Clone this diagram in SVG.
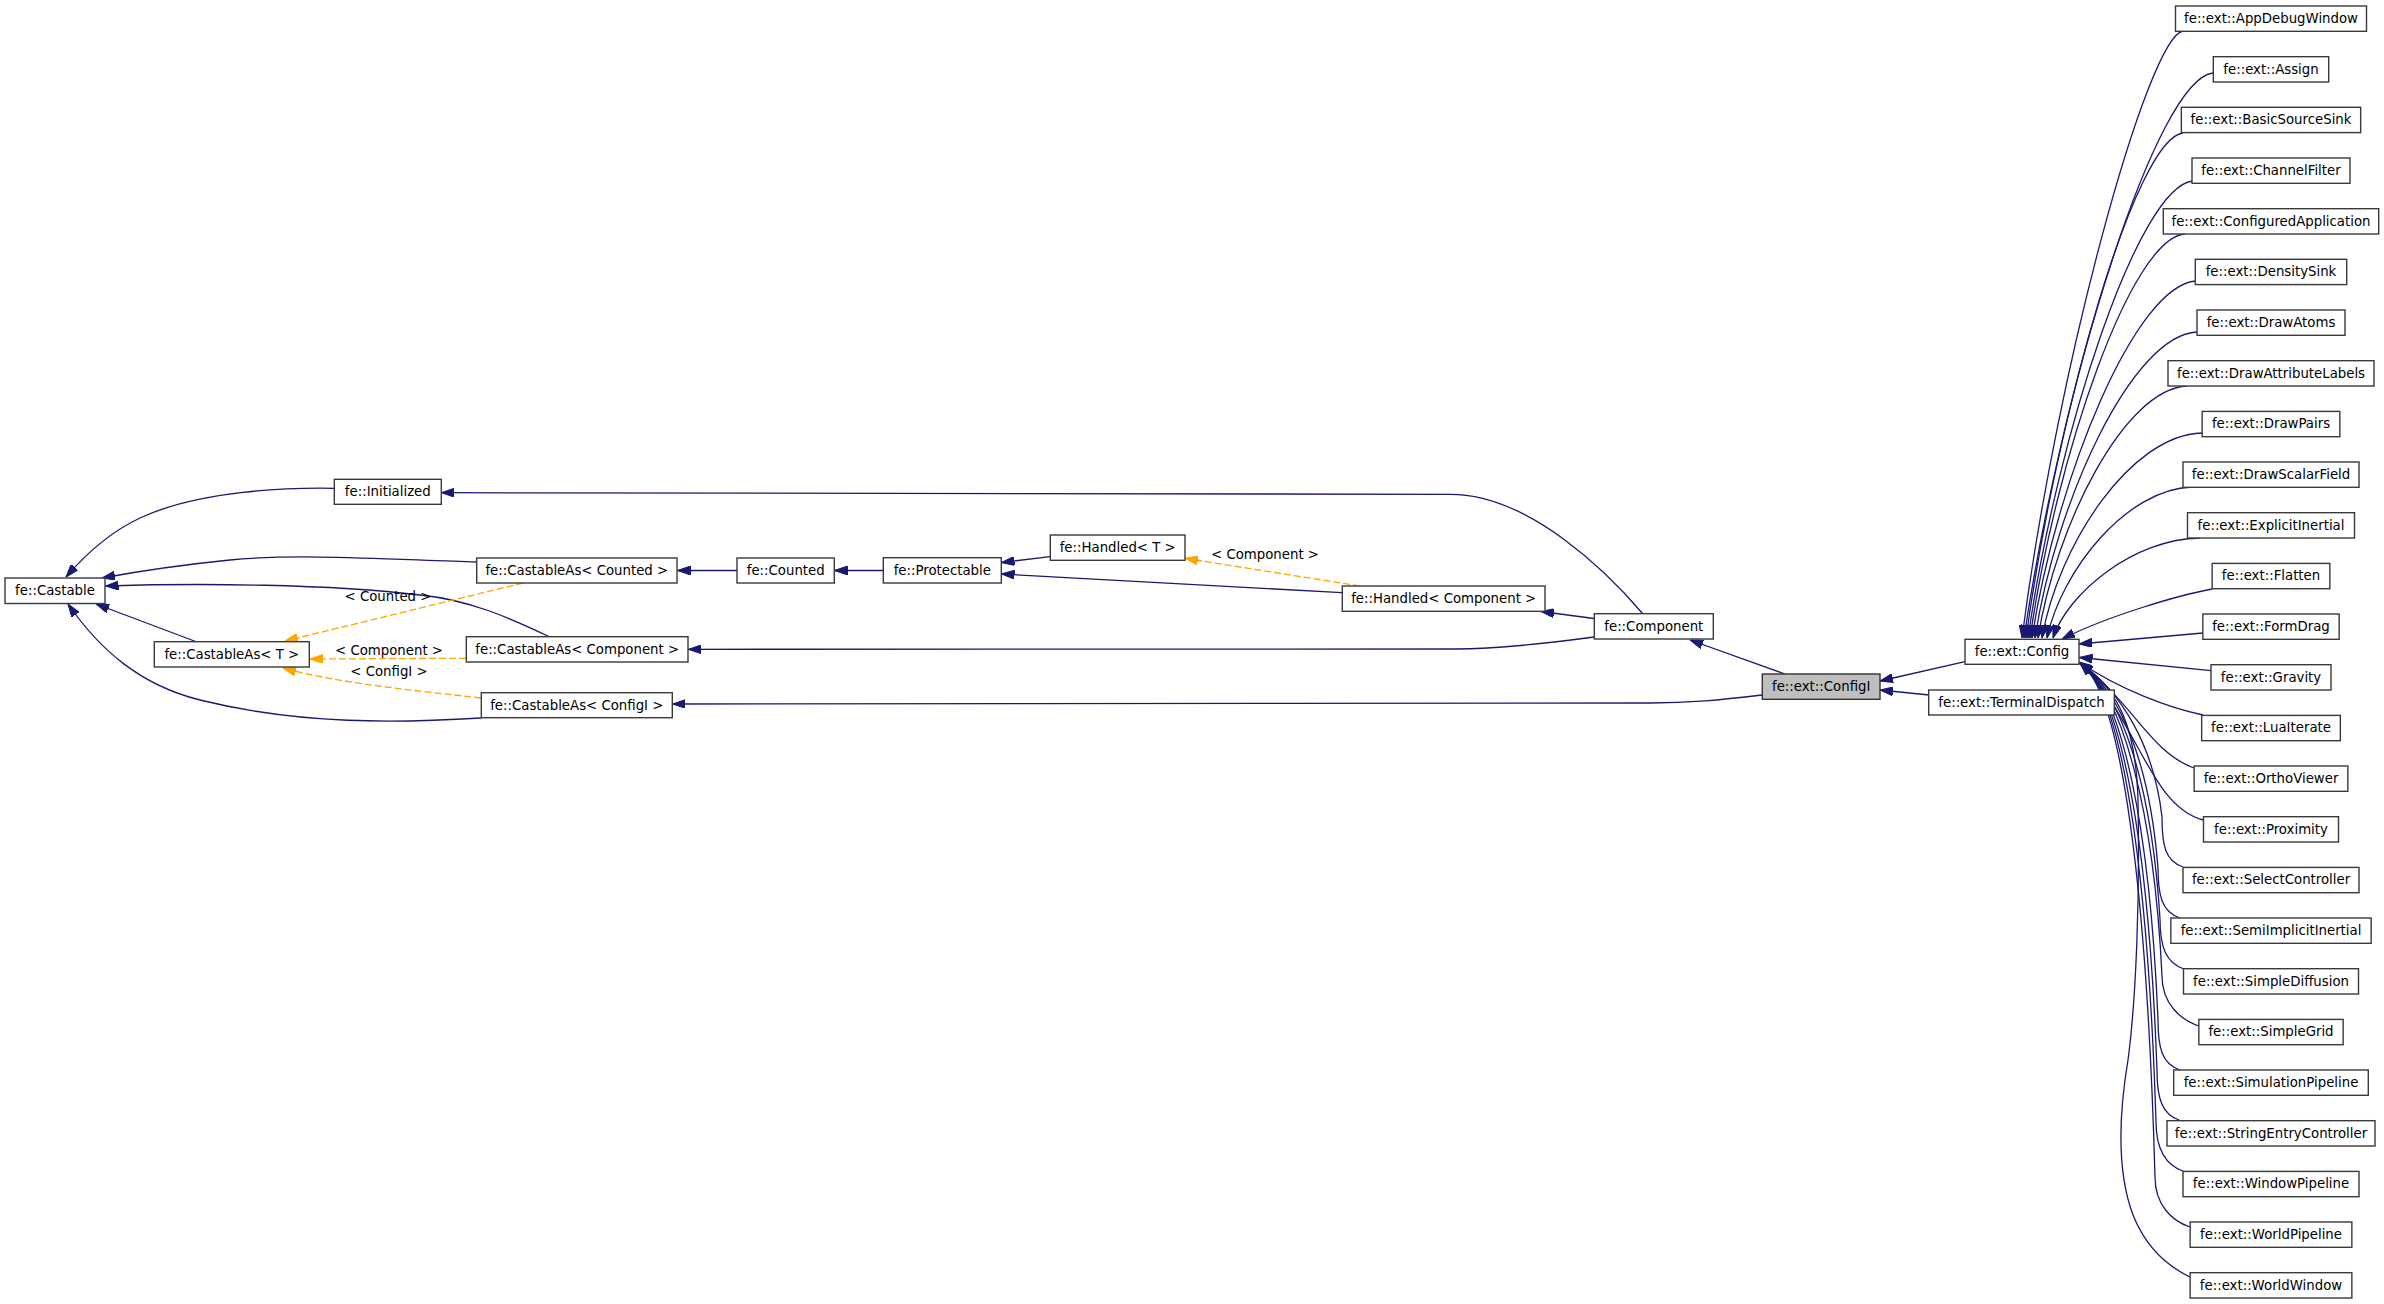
<svg xmlns="http://www.w3.org/2000/svg" width="2384" height="1304" viewBox="0 0 2384 1304">
<style>
.n rect{fill:#fff;stroke:#3a3a3a;stroke-width:1.4}
.n.sel rect{fill:#bfbfbf;stroke:#333}
text{font-family:"DejaVu Sans","Noto Sans",sans-serif;font-size:13.3px;text-anchor:middle;fill:#000}
.e{fill:none;stroke:#191970;stroke-width:1.3;marker-end:url(#ah)}
.d{fill:none;stroke:#FFA500;stroke-width:1.3;stroke-dasharray:7,3;marker-end:url(#ao)}
</style>
<defs>
<marker id="ah" viewBox="0 0 13 9" refX="13" refY="4.5" markerWidth="13" markerHeight="9" markerUnits="userSpaceOnUse" orient="auto"><path d="M0,0 L13,4.5 L0,9 z" fill="#191970" stroke="#191970" stroke-width="1"/></marker>
<marker id="ao" viewBox="0 0 13 9" refX="13" refY="4.5" markerWidth="13" markerHeight="9" markerUnits="userSpaceOnUse" orient="auto"><path d="M0,0 L13,4.5 L0,9 z" fill="#FFA500" stroke="#FFA500" stroke-width="1"/></marker>
</defs>
<rect width="2384" height="1304" fill="#fff"/>
<g id="edges">
<path class="e" d="M334,488.3 C290,487.5 200,490 140,518 C110,532 85,555 66,577"/>
<path class="e" d="M477,562 C400,560 300,553 230,560 C180,565 140,571 102,578"/>
<path class="e" d="M550,637 C510,618 470,600 420,595 C330,584 200,583 105.5,586"/>
<path class="e" d="M197,642 L96,604"/>
<path class="e" d="M481,718 C400,723 300,725 200,700 C140,685 100,650 68,604"/>
<path class="d" d="M523,583 L285,641"/>
<text x="388" y="600.5">&lt; Counted &gt;</text>
<path class="d" d="M466,658.3 L310,659"/>
<text x="389" y="655.3">&lt; Component &gt;</text>
<path class="d" d="M481,698 C430,692 340,684 283,668"/>
<text x="389" y="676">&lt; ConfigI &gt;</text>
<path class="e" d="M737,570.5 L677.5,570.5"/>
<path class="e" d="M883,570.5 L834.5,570.5"/>
<path class="e" d="M1050,556.7 L1001.5,562.5"/>
<path class="e" d="M1342,592.7 L1001.5,574"/>
<path class="d" d="M1360,586 L1185,558.3"/>
<text x="1265" y="559.3">&lt; Component &gt;</text>
<path class="e" d="M1594,618.5 L1541,611.5"/>
<path class="e" d="M1643,614 C1610,575 1530,494 1450,494.3 L441.5,492.7"/>
<path class="e" d="M1594,637 C1550,643 1500,649 1455,649 L688.5,649.3"/>
<path class="e" d="M1785,674 L1690,640"/>
<path class="e" d="M1762,695 C1720,700 1690,703 1650,703 L672.5,704"/>
<path class="e" d="M1965,661.7 L1880,681"/>
<path class="e" d="M1929,695 L1880,690"/>
<path class="e" d="M2183,31 C2147.6,37 2057.4,364.9 2022,638"/>
<path class="e" d="M2213,73 C2156.3,79 2061.8,383.8 2024,638"/>
<path class="e" d="M2183,133 C2135.9,138 2057.4,410.75 2026,638"/>
<path class="e" d="M2193,181 C2138.5,186 2057.7,432.35 2028,638"/>
<path class="e" d="M2185,234 C2130.75,238 2056.35,456.2 2030,638"/>
<path class="e" d="M2196,281 C2135.3,285 2056.6,477.35 2032,638"/>
<path class="e" d="M2197,332 C2132.2,335 2056.1,500.3 2035,638"/>
<path class="e" d="M2187,386 C2124.4,389 2055.9,524.6 2038,638"/>
<path class="e" d="M2202,433 C2130,435 2058,545.75 2042,638"/>
<path class="e" d="M2192,487 C2126.75,489 2061.5,570 2047,638"/>
<path class="e" d="M2200,538 C2133.85,539 2067.7,593 2053,638"/>
<path class="e" d="M2212,589 C2180,595 2110,615 2062,639"/>
<path class="e" d="M2203,633 L2079,644"/>
<path class="e" d="M2211,670.7 L2079.5,657.5"/>
<path class="e" d="M2203,715 C2170,708 2120,690 2079.5,662"/>
<path class="e" d="M2194,768 C2150,752 2135,705 2080,663"/>
<path class="e" d="M2203,820 C2150,806 2138,720 2080,663"/>
<path class="e" d="M2183,867 C2165,861 2162,845 2162,817 C2154,747 2122,692 2080,663"/>
<path class="e" d="M2180,918 C2162,912 2158,896 2158,868 C2150,767 2122,692 2080,663"/>
<path class="e" d="M2184,969 C2166,963 2160,947 2160,919 C2152,788 2122,692 2080,663"/>
<path class="e" d="M2199,1026 C2181,1020 2162,1004 2162,976 C2154,810 2122,692 2080,663"/>
<path class="e" d="M2180,1070 C2162,1064 2158,1048 2158,1020 C2150,828 2122,692 2080,663"/>
<path class="e" d="M2180,1120.5 C2162,1114.5 2157,1098.5 2157,1070.5 C2149,848 2122,692 2080,663"/>
<path class="e" d="M2184,1171.5 C2166,1165.5 2156,1149.5 2156,1121.5 C2148,869 2122,692 2080,663"/>
<path class="e" d="M2190,1227 C2172,1221 2155,1205 2155,1177 C2147,891 2122,692 2080,663"/>
<path class="e" d="M2190,1277 C2165,1265 2145,1245 2133,1215 C2118,1175 2118,1120 2128,1060 C2136,1000 2140,900 2138,800 C2136,730 2120,690 2080,663"/>
</g>
<g id="n_castable" class="n"><rect x="5" y="578" width="100" height="25.5"/><text x="55" y="595">fe::Castable</text></g>
<g id="n_initialized" class="n"><rect x="334.3" y="479.3" width="107" height="25"/><text x="387.8" y="496.3">fe::Initialized</text></g>
<g id="n_castableas_t" class="n"><rect x="154.3" y="641.7" width="155" height="25.3"/><text x="231.8" y="658.7">fe::CastableAs&lt; T &gt;</text></g>
<g id="n_castableas_counted" class="n"><rect x="476.7" y="558" width="200.3" height="25"/><text x="576.8" y="575">fe::CastableAs&lt; Counted &gt;</text></g>
<g id="n_counted" class="n"><rect x="737" y="558" width="97.3" height="25"/><text x="785.7" y="575">fe::Counted</text></g>
<g id="n_protectable" class="n"><rect x="883.3" y="557.7" width="118" height="25.3"/><text x="942.3" y="574.8">fe::Protectable</text></g>
<g id="n_handled_t" class="n"><rect x="1050.3" y="535" width="134.7" height="25.3"/><text x="1117.7" y="552">fe::Handled&lt; T &gt;</text></g>
<g id="n_castableas_component" class="n"><rect x="466.3" y="636.7" width="221.7" height="25.3"/><text x="577.2" y="653.7">fe::CastableAs&lt; Component &gt;</text></g>
<g id="n_castableas_configi" class="n"><rect x="481.3" y="692.7" width="191" height="25"/><text x="576.8" y="709.7">fe::CastableAs&lt; ConfigI &gt;</text></g>
<g id="n_handled_component" class="n"><rect x="1342.3" y="586" width="202.7" height="25.3"/><text x="1443.7" y="603">fe::Handled&lt; Component &gt;</text></g>
<g id="n_component" class="n"><rect x="1594.3" y="613.7" width="119" height="25.3"/><text x="1653.8" y="630.7">fe::Component</text></g>
<g id="n_configi" class="n sel"><rect x="1762.3" y="674" width="117.7" height="25.3"/><text x="1821.2" y="691">fe::ext::ConfigI</text></g>
<g id="n_config" class="n"><rect x="1965" y="639.3" width="114" height="25"/><text x="2022" y="656.3">fe::ext::Config</text></g>
<g id="n_terminaldispatch" class="n"><rect x="1928.7" y="690" width="185.6" height="25"/><text x="2021.5" y="707">fe::ext::TerminalDispatch</text></g>
<g id="n_appdebugwindow" class="n"><rect x="2175.5" y="6" width="191" height="25.3"/><text x="2271" y="23">fe::ext::AppDebugWindow</text></g>
<g id="n_assign" class="n"><rect x="2213.3" y="56.7" width="115.4" height="25.3"/><text x="2271" y="73.7">fe::ext::Assign</text></g>
<g id="n_basicsourcesink" class="n"><rect x="2181.35" y="107.3" width="179.3" height="25.3"/><text x="2271" y="124.3">fe::ext::BasicSourceSink</text></g>
<g id="n_channelfilter" class="n"><rect x="2192" y="158" width="158" height="25.3"/><text x="2271" y="175">fe::ext::ChannelFilter</text></g>
<g id="n_configuredapplication" class="n"><rect x="2163.3" y="208.7" width="215.4" height="25.3"/><text x="2271" y="225.7">fe::ext::ConfiguredApplication</text></g>
<g id="n_densitysink" class="n"><rect x="2195.3" y="259.3" width="151.4" height="25.3"/><text x="2271" y="276.3">fe::ext::DensitySink</text></g>
<g id="n_drawatoms" class="n"><rect x="2197" y="310" width="148" height="25.3"/><text x="2271" y="327">fe::ext::DrawAtoms</text></g>
<g id="n_drawattributelabels" class="n"><rect x="2168" y="360.7" width="206" height="25.3"/><text x="2271" y="377.7">fe::ext::DrawAttributeLabels</text></g>
<g id="n_drawpairs" class="n"><rect x="2202.15" y="411.4" width="137.7" height="25.3"/><text x="2271" y="428.4">fe::ext::DrawPairs</text></g>
<g id="n_drawscalarfield" class="n"><rect x="2183" y="462" width="176" height="25.3"/><text x="2271" y="479">fe::ext::DrawScalarField</text></g>
<g id="n_explicitinertial" class="n"><rect x="2187.5" y="512.7" width="167" height="25.3"/><text x="2271" y="529.7">fe::ext::ExplicitInertial</text></g>
<g id="n_flatten" class="n"><rect x="2212.15" y="563.4" width="117.7" height="25.3"/><text x="2271" y="580.4">fe::ext::Flatten</text></g>
<g id="n_formdrag" class="n"><rect x="2202.85" y="614" width="136.3" height="25.3"/><text x="2271" y="631">fe::ext::FormDrag</text></g>
<g id="n_gravity" class="n"><rect x="2211" y="664.7" width="120" height="25.3"/><text x="2271" y="681.7">fe::ext::Gravity</text></g>
<g id="n_luaiterate" class="n"><rect x="2201.65" y="715.4" width="138.7" height="25.3"/><text x="2271" y="732.4">fe::ext::LuaIterate</text></g>
<g id="n_orthoviewer" class="n"><rect x="2194.15" y="766" width="153.7" height="25.3"/><text x="2271" y="783">fe::ext::OrthoViewer</text></g>
<g id="n_proximity" class="n"><rect x="2203.5" y="816.7" width="135" height="25.3"/><text x="2271" y="833.7">fe::ext::Proximity</text></g>
<g id="n_selectcontroller" class="n"><rect x="2183" y="867.4" width="176" height="25.3"/><text x="2271" y="884.4">fe::ext::SelectController</text></g>
<g id="n_semiimplicitinertial" class="n"><rect x="2170.85" y="918" width="200.3" height="25.3"/><text x="2271" y="935">fe::ext::SemiImplicitInertial</text></g>
<g id="n_simplediffusion" class="n"><rect x="2183.5" y="968.7" width="175" height="25.3"/><text x="2271" y="985.7">fe::ext::SimpleDiffusion</text></g>
<g id="n_simplegrid" class="n"><rect x="2198.85" y="1019.4" width="144.3" height="25.3"/><text x="2271" y="1036.4">fe::ext::SimpleGrid</text></g>
<g id="n_simulationpipeline" class="n"><rect x="2173.7" y="1070" width="194.6" height="25.3"/><text x="2271" y="1087">fe::ext::SimulationPipeline</text></g>
<g id="n_stringentrycontroller" class="n"><rect x="2167" y="1120.7" width="208" height="25.3"/><text x="2271" y="1137.7">fe::ext::StringEntryController</text></g>
<g id="n_windowpipeline" class="n"><rect x="2183" y="1171.4" width="176" height="25.3"/><text x="2271" y="1188.4">fe::ext::WindowPipeline</text></g>
<g id="n_worldpipeline" class="n"><rect x="2190.15" y="1222" width="161.7" height="25.3"/><text x="2271" y="1239">fe::ext::WorldPipeline</text></g>
<g id="n_worldwindow" class="n"><rect x="2190.15" y="1272.7" width="161.7" height="25.3"/><text x="2271" y="1289.7">fe::ext::WorldWindow</text></g>
</svg>
